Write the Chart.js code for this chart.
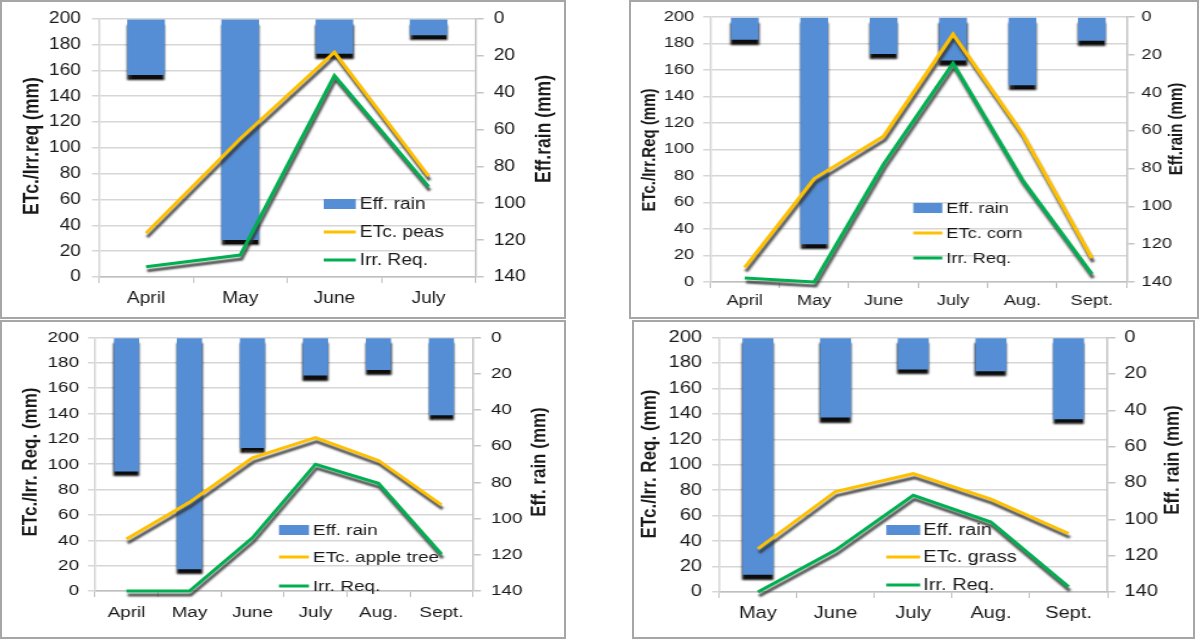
<!DOCTYPE html>
<html>
<head>
<meta charset="utf-8">
<title>ETc, irrigation requirement and effective rain</title>
<script src="https://cdn.jsdelivr.net/npm/chart.js@4.4.1/dist/chart.umd.min.js"></script>
<style>
  body { margin: 0; background: #fff; width: 1200px; height: 640px; position: relative; overflow: hidden; }
  canvas { position: absolute; }
  .frame { position: absolute; box-sizing: border-box; border: 2px solid #a6a6a6; pointer-events: none; }
</style>
</head>
<body>
<canvas id="peas"></canvas>
<canvas id="corn"></canvas>
<canvas id="apple"></canvas>
<canvas id="grass"></canvas>
<div class="frame" style="left:0;top:0;width:566px;height:319px"></div>
<div class="frame" style="left:629px;top:0;width:570px;height:319px"></div>
<div class="frame" style="left:0;top:320px;width:566px;height:319px"></div>
<div class="frame" style="left:632px;top:320px;width:563px;height:319px"></div>
<script>
// values (mm)
const peasMonths = ["April", "May", "June", "July"];
const peasRain = [30.5, 120, 19, 9];
const peasEtc = [34, 107, 174, 78];
const peasIrr = [8, 17, 156, 70];

const cornMonths = ["April", "May", "June", "July", "Aug.", "Sept."];
const cornRain = [12, 120, 19.5, 23, 36, 12.5];
const cornEtc = [11, 78, 110, 187, 112, 18];
const cornIrr = [3, 0, 89, 165, 77, 6];

const appleMonths = ["April", "May", "June", "July", "Aug.", "Sept."];
const appleRain = [74, 128, 61, 21, 18, 43];
const appleEtc = [41, 70, 105, 121, 103, 68];
const appleIrr = [0, 0, 42, 100, 85, 29];

const grassMonths = ["May", "June", "July", "Aug.", "Sept."];
const grassRain = [130.5, 44, 17.5, 18.5, 45];
const grassEtc = [34, 79, 93, 73, 46];
const grassIrr = [0, 33, 76, 55, 4];

const FONT = '"Liberation Sans", Arial, sans-serif';
const INK = "#1a1a1a";

// drop shadows like the spreadsheet chart
const shadowPlugin = {
  id: "dropShadow",
  beforeDatasetDraw(chart, args) {
    const ctx = chart.ctx;
    ctx.save();
    if (args.meta.type === "bar") {
      ctx.shadowColor = "rgba(0,0,0,0.95)";
      ctx.shadowBlur = 2;
      ctx.shadowOffsetX = 0;
      ctx.shadowOffsetY = 5;
    } else {
      ctx.shadowColor = "rgba(50,50,50,0.85)";
      ctx.shadowBlur = 2;
      ctx.shadowOffsetX = 1;
      ctx.shadowOffsetY = 4;
    }
  },
  afterDatasetDraw(chart) {
    chart.ctx.restore();
  }
};

// legend inside the plot and the two rotated axis titles
const panelText = {
  id: "panelText",
  beforeDatasetsDraw(chart, args, o) {
    const ctx = chart.ctx;
    const ds = chart.data.datasets;
    const items = [ds[2], ds[0], ds[1]];
    ctx.save();
    ctx.font = o.fs + "px " + FONT;
    ctx.textBaseline = "middle";
    ctx.textAlign = "left";
    items.forEach((d, i) => {
      const y = o.rows[i];
      if (d.type === "bar") {
        ctx.fillStyle = d.backgroundColor;
        ctx.fillRect(o.boxL, y - 5, o.boxR - o.boxL, 10);
      } else {
        ctx.strokeStyle = d.borderColor;
        ctx.lineWidth = 3;
        ctx.beginPath();
        ctx.moveTo(o.boxL, y);
        ctx.lineTo(o.boxR, y);
        ctx.stroke();
      }
      ctx.fillStyle = INK;
      ctx.fillText(d.label, o.textX, y + 1);
    });
    ctx.restore();
  },
  afterDraw(chart, args, o) {
    const ctx = chart.ctx;
    ctx.save();
    ctx.font = "bold " + o.tfs + "px " + FONT;
    ctx.fillStyle = INK;
    ctx.textAlign = "center";
    ctx.textBaseline = "middle";
    [[o.leftTitle, o.ltx, o.lty], [o.rightTitle, o.rtx, o.rty]].forEach(([t, x, y]) => {
      ctx.save();
      ctx.translate(x, y);
      ctx.rotate(-Math.PI / 2);
      ctx.fillText(t, 0, 0);
      ctx.restore();
    });
    ctx.restore();
  }
};

function buildPanel(p) {
  const s = p.stretch;
  const X = v => (v - p.box.x) / s;
  const Y = v => v - p.box.y;
  const cv = document.getElementById(p.id);
  cv.width = Math.round(p.box.w / s);
  cv.height = p.box.h;
  cv.style.left = p.box.x + "px";
  cv.style.top = p.box.y + "px";
  cv.style.width = p.box.w + "px";
  cv.style.height = p.box.h + "px";

  const plotL = X(p.plot.l), plotR = X(p.plot.r);
  const plotT = Y(p.plot.t), plotB = Y(p.plot.b);
  const leftW = plotL, rightW = cv.width - plotR, xH = cv.height - plotB;
  const lTick = 7 / s, rTick = 8 / s;
  const font = { family: FONT, size: p.fs };

  new Chart(cv, {
    type: "bar",
    data: {
      labels: p.labels,
      datasets: [
        { type: "line", label: p.etcLabel, data: p.etc, borderColor: "#ffc000", borderWidth: 3,
          pointRadius: 0, tension: 0, yAxisID: "y", order: 1, clip: false },
        { type: "line", label: "Irr. Req.", data: p.irr, borderColor: "#00b050", borderWidth: 3,
          pointRadius: 0, tension: 0, yAxisID: "y", order: 2, clip: false },
        { type: "bar", label: "Eff. rain", data: p.rain, backgroundColor: "#558ed5",
          yAxisID: "y1", order: 3, barPercentage: 0.4, categoryPercentage: 1 }
      ]
    },
    options: {
      responsive: false,
      animation: false,
      devicePixelRatio: 1,
      layout: { padding: { top: plotT, left: 0, right: 0, bottom: 0 } },
      plugins: {
        legend: { display: false },
        tooltip: { enabled: false },
        panelText: {
          fs: p.fs, tfs: p.tfs,
          boxL: X(p.legend.boxL), boxR: X(p.legend.boxR), textX: X(p.legend.textX),
          rows: p.legend.rows.map(Y),
          leftTitle: p.leftTitle, rightTitle: p.rightTitle,
          ltx: X(p.titles.lx), lty: Y(p.titles.ly), rtx: X(p.titles.rx), rty: Y(p.titles.ry)
        }
      },
      scales: {
        x: {
          offset: true,
          grid: { drawOnChartArea: false, tickLength: 6, color: "#bfbfbf", offset: true },
          border: { color: "#bfbfbf", width: 1.5 },
          ticks: { font, color: INK, maxRotation: 0, autoSkip: false,
                   padding: p.xLabelY - p.plot.b - 6 - p.fs * 0.6 },
          afterFit: sc => { sc.height = xH; }
        },
        y: {
          position: "left", min: 0, max: 200,
          grid: { color: "#d6d6d6", lineWidth: 1.5, tickLength: lTick },
          border: { display: true, color: "#d6d6d6", width: 1.5 },
          ticks: { stepSize: 20, font, color: INK,
                   padding: (p.plot.l - p.leftLabelRight) / s - lTick },
          afterFit: sc => { sc.width = leftW; }
        },
        y1: {
          position: "right", min: 0, max: 140, reverse: true,
          grid: { drawOnChartArea: false, tickLength: rTick, color: "#c4c4c4", lineWidth: 1.5 },
          border: { display: true, color: "#c4c4c4", width: 1.5 },
          ticks: { stepSize: 20, font, color: INK,
                   padding: (p.rightLabelLeft - p.plot.r) / s - rTick },
          afterFit: sc => { sc.width = rightW; }
        }
      }
    },
    plugins: [shadowPlugin, panelText]
  });
}

buildPanel({
  id: "peas", stretch: 1.2, fs: 16, tfs: 17.5,
  box: { x: 0, y: 0, w: 566, h: 319 },
  plot: { l: 99, t: 16, r: 476, b: 277 },
  leftLabelRight: 81, rightLabelLeft: 494, xLabelY: 299,
  labels: peasMonths, rain: peasRain, etc: peasEtc, irr: peasIrr, etcLabel: "ETc. peas",
  leftTitle: "ETc./Irr.req (mm)", rightTitle: "Eff.rain (mm)",
  titles: { lx: 33, ly: 146, rx: 545, ry: 129 },
  legend: { boxL: 324, boxR: 356, textX: 360, rows: [204, 232, 260] }
});

buildPanel({
  id: "corn", stretch: 1.3, fs: 14, tfs: 15,
  box: { x: 629, y: 0, w: 570, h: 319 },
  plot: { l: 710, t: 17, r: 1126, b: 282 },
  leftLabelRight: 694, rightLabelLeft: 1141, xLabelY: 301,
  labels: cornMonths, rain: cornRain, etc: cornEtc, irr: cornIrr, etcLabel: "ETc. corn",
  leftTitle: "ETc./Irr.Req (mm)", rightTitle: "Eff.rain (mm)",
  titles: { lx: 649, ly: 150, rx: 1176, ry: 129 },
  legend: { boxL: 913, boxR: 942, textX: 946, rows: [208, 233, 258] }
});

buildPanel({
  id: "apple", stretch: 1.22, fs: 15.5, tfs: 17,
  box: { x: 0, y: 320, w: 566, h: 319 },
  plot: { l: 95, t: 335, r: 473, b: 591 },
  leftLabelRight: 79, rightLabelLeft: 491, xLabelY: 613,
  labels: appleMonths, rain: appleRain, etc: appleEtc, irr: appleIrr, etcLabel: "ETc. apple tree",
  leftTitle: "ETc./Irr. Req. (mm)", rightTitle: "Eff. rain (mm)",
  titles: { lx: 31, ly: 462, rx: 540, ry: 462 },
  legend: { boxL: 279, boxR: 309, textX: 313, rows: [530, 557, 586] }
});

buildPanel({
  id: "grass", stretch: 1.25, fs: 16, tfs: 17,
  box: { x: 632, y: 320, w: 563, h: 319 },
  plot: { l: 719, t: 336, r: 1107, b: 592 },
  leftLabelRight: 702, rightLabelLeft: 1124, xLabelY: 614,
  labels: grassMonths, rain: grassRain, etc: grassEtc, irr: grassIrr, etcLabel: "ETc. grass",
  leftTitle: "ETc./Irr. Req. (mm)", rightTitle: "Eff. rain (mm)",
  titles: { lx: 650, ly: 464, rx: 1172, ry: 460 },
  legend: { boxL: 886, boxR: 920, textX: 923, rows: [530, 557, 585] }
});
</script>
</body>
</html>
